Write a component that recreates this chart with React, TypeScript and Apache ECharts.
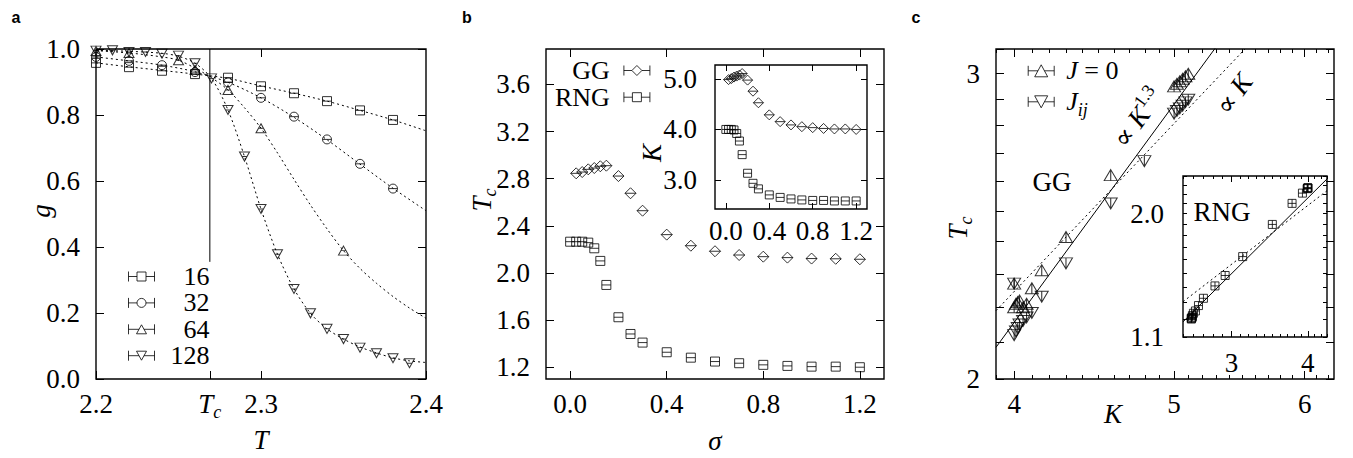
import React, { useEffect, useRef } from 'react';
import * as echarts from 'echarts';

const SERIF = '"Liberation Serif", "DejaVu Serif", serif';
const SANS = '"Liberation Sans", "DejaVu Sans", sans-serif';
const FS = 27;
const LFS = 26;

// ---------------- panel a : g(T) ----------------
const TC = 2.269;
const aXTicks = [2.2, TC, 2.3, 2.4];
const aXTopTicks = [2.3];
const aYTicks = [0, 0.2, 0.4, 0.6, 0.8, 1.0];
const aLegend = ['16', '32', '64', '128'];

const T16 = [2.2, 2.22, 2.24, 2.26, 2.28, 2.3, 2.32, 2.34, 2.36, 2.38];
const g16 = [0.958, 0.945, 0.934, 0.924, 0.913, 0.887, 0.866, 0.842, 0.814, 0.785];
const T32 = [2.2, 2.22, 2.24, 2.26, 2.28, 2.3, 2.32, 2.34, 2.36, 2.38];
const g32 = [0.976, 0.964, 0.951, 0.93, 0.899, 0.852, 0.795, 0.726, 0.652, 0.577];
const T64 = [2.2, 2.22, 2.25, 2.26, 2.28, 2.3, 2.35];
const g64 = [0.994, 0.988, 0.966, 0.937, 0.876, 0.76, 0.389];
const T128 = [2.2, 2.21, 2.22, 2.23, 2.24, 2.25, 2.26, 2.27, 2.28, 2.29, 2.3, 2.31, 2.32, 2.33, 2.34, 2.35, 2.36, 2.37, 2.38, 2.39];
const g128 = [0.995, 0.996, 0.991, 0.991, 0.986, 0.98, 0.957, 0.911, 0.815, 0.674, 0.515, 0.378, 0.273, 0.199, 0.152, 0.121, 0.095, 0.078, 0.063, 0.048];

// dotted fit curves
const fitT16 = [2.2, 2.22, 2.24, 2.26, 2.28, 2.3, 2.32, 2.34, 2.36, 2.38, 2.4];
const fitG16 = [0.958, 0.946, 0.935, 0.924, 0.911, 0.888, 0.866, 0.842, 0.814, 0.785, 0.752];
const fitT32 = [2.2, 2.22, 2.24, 2.26, 2.28, 2.3, 2.32, 2.34, 2.36, 2.38, 2.4];
const fitG32 = [0.976, 0.964, 0.951, 0.931, 0.899, 0.852, 0.793, 0.725, 0.651, 0.578, 0.51];
const fitT64 = [2.2, 2.22, 2.24, 2.25, 2.26, 2.27, 2.28, 2.29, 2.3, 2.31, 2.32, 2.33, 2.34, 2.35, 2.36, 2.37, 2.38, 2.39, 2.4];
const fitG64 = [0.995, 0.988, 0.976, 0.966, 0.942, 0.913, 0.876, 0.822, 0.76, 0.685, 0.605, 0.527, 0.455, 0.389, 0.335, 0.29, 0.25, 0.215, 0.184];
const fitT128 = [2.2, 2.22, 2.24, 2.25, 2.26, 2.27, 2.28, 2.29, 2.3, 2.31, 2.32, 2.33, 2.34, 2.35, 2.36, 2.37, 2.38, 2.39, 2.4];
const fitG128 = [0.996, 0.993, 0.987, 0.978, 0.957, 0.911, 0.815, 0.674, 0.515, 0.378, 0.273, 0.199, 0.152, 0.121, 0.097, 0.079, 0.064, 0.055, 0.05];

const tcLineT = [TC, TC];
const tcLineG = [1.0, 0.355];

// ---------------- panel b : Tc(sigma), inset K(sigma) ----------------
const bXTicks = [0, 0.4, 0.8, 1.2];
const bYTicks = [1.2, 1.6, 2.0, 2.4, 2.8, 3.2, 3.6];
const biYTicks = [3, 4, 5];
const bLegend = ['GG', 'RNG'];

const sigmaGG = [0.025, 0.05, 0.075, 0.1, 0.125, 0.15, 0.2, 0.25, 0.3, 0.4, 0.5, 0.6, 0.7, 0.8, 0.9, 1.0, 1.1, 1.2];
const tcGG = [2.845, 2.856, 2.879, 2.89, 2.905, 2.91, 2.822, 2.676, 2.528, 2.325, 2.231, 2.184, 2.152, 2.138, 2.13, 2.122, 2.12, 2.116];
const kGG = [4.99, 5.01, 5.04, 5.06, 5.08, 5.11, 4.98, 4.76, 4.53, 4.29, 4.155, 4.09, 4.055, 4.036, 4.02, 4.01, 4.01, 4.0];
const sigmaRNG = [0, 0.025, 0.05, 0.075, 0.1, 0.125, 0.15, 0.2, 0.25, 0.3, 0.4, 0.5, 0.6, 0.7, 0.8, 0.9, 1.0, 1.1, 1.2];
const tcRNG = [2.265, 2.265, 2.265, 2.257, 2.209, 2.102, 1.898, 1.624, 1.482, 1.409, 1.327, 1.281, 1.248, 1.234, 1.22, 1.211, 1.205, 1.205, 1.2];
const kRNG = [4.0, 4.0, 4.0, 3.99, 3.92, 3.77, 3.5, 3.13, 2.93, 2.82, 2.7, 2.65, 2.62, 2.6, 2.59, 2.59, 2.58, 2.58, 2.58];

// ---------------- panel c : Tc(K), log-log ----------------
const cXMajor = [4, 5, 6];
const cXMinor = [3.9, 4.1, 4.2, 4.3, 4.4, 4.5, 4.6, 4.7, 4.8, 4.9, 5.1, 5.2, 5.3, 5.4, 5.5, 5.6, 5.7, 5.8, 5.9, 6.1, 6.2];
const cYTicks = [2.0, 2.1, 2.2, 2.3, 2.4, 2.5, 2.6, 2.7, 2.8, 2.9, 3.0, 3.1];
const cYLabels = [2, 3];
const ciXMajor = [3, 4];
const ciXMinor = [2.5, 2.6, 2.7, 2.8, 2.9, 3.1, 3.2, 3.3, 3.4, 3.5, 3.6, 3.7, 3.8, 3.9, 4.1, 4.2, 4.3];
const ciYTicks = [1.1, 1.2, 1.3, 1.4, 1.5, 1.6, 1.7, 1.8, 1.9, 2.0, 2.1, 2.2, 2.3, 2.4];
const ciYLabels = [1.1, 2.0];
const cLegend = ['J = 0', 'J_ij'];

const kJ0 = [4.0, 4.0, 4.01, 4.02, 4.03, 4.05, 4.07, 4.1, 4.157, 4.3, 4.577, 5.0, 5.02, 5.04, 5.06, 5.08, 5.1];
const tcJ0 = [2.27, 2.2, 2.21, 2.215, 2.22, 2.2, 2.21, 2.256, 2.311, 2.415, 2.622, 2.95, 2.96, 2.97, 2.98, 2.99, 3.0];
const kJij = [4.0, 4.0, 4.01, 4.02, 4.03, 4.05, 4.07, 4.1, 4.157, 4.3, 4.577, 4.797, 5.0, 5.02, 5.04, 5.06, 5.08, 5.1];
const tcJij = [2.27, 2.12, 2.13, 2.14, 2.15, 2.16, 2.17, 2.183, 2.231, 2.332, 2.525, 2.671, 2.845, 2.855, 2.865, 2.875, 2.888, 2.898];

const fit13K = [3.9, 5.3];
const fit13Tc = [2.086, 3.107];
const fit1K = [3.9, 5.52];
const fit1Tc = [2.19, 3.1];
const fit13iK = [2.5, 4.3];
const fit13iTc = [1.184, 2.366];
const fit1iK = [2.5, 4.3];
const fit1iTc = [1.305, 2.235];

// ---------------- helpers ----------------
const zip = (xs: number[], ys: number[]) => xs.map((x, i) => [x, ys[i]]);

const SYM = {
  sqH: 'path://M0,0H10V10H0ZM0,5H10',
  ciH: 'path://M0,5A5,5,0,1,1,10,5A5,5,0,1,1,0,5ZM0,5H10',
  upH: 'path://M5,0L10,9L0,9ZM2.5,4.5H7.5',
  dnH: 'path://M0,0H10L5,9ZM2.5,4.5H7.5',
  diH: 'path://M5,0L10,5L5,10L0,5ZM0,5H10',
  upV: 'path://M5,0L10,9L0,9ZM5,0V9',
  dnV: 'path://M0,0H10L5,9ZM5,0V9',
  sqX: 'path://M0,0H10V10H0ZM0,5H10M5,0V10',
};
const LEG = {
  sq: 'path://M0,0V10M26,0V10M0,5H8.5M17.5,5H26M8.5,0.5H17.5V9.5H8.5Z',
  ci: 'path://M0,0V10M26,0V10M0,5H8.5M17.5,5H26M8.5,5A4.5,4.5,0,1,1,17.5,5A4.5,4.5,0,1,1,8.5,5Z',
  up: 'path://M0,0V10M26,0V10M0,5H10.5M15.5,5H26M13,0.5L18,9.5L8,9.5Z',
  dn: 'path://M0,0V10M26,0V10M0,5H10.5M15.5,5H26M8,0.5H18L13,9.5Z',
  di: 'path://M0,0V10M26,0V10M0,5H8M18,5H26M13,0L18,5L13,10L8,5Z',
  cUp: 'path://M0,1V11M26,1V11M0,6H9.75M16.25,6H26M13,0L19.5,12L6.5,12Z',
  cDn: 'path://M0,1V11M26,1V11M0,6H9.75M16.25,6H26M6.5,0H19.5L13,12Z',
};

// rich styles for echarts components (axis labels, legends)
const AXRICH = {
  n: { fontFamily: SERIF, fontSize: FS, color: '#000' },
  it: { fontFamily: SERIF, fontSize: FS, fontStyle: 'italic', color: '#000' },
  sub: { fontFamily: SERIF, fontSize: 18, fontStyle: 'italic', color: '#000', padding: [16, 0, 0, 0], lineHeight: 10 },
};
// rich styles for raw graphic texts (zrender style)
const GRICH = {
  it: { font: `italic ${FS}px ${SERIF}`, fill: '#000' },
  n: { font: `${FS}px ${SERIF}`, fill: '#000' },
  sub: { font: `italic 18px ${SERIF}`, fill: '#000', padding: [16, 0, 0, 0], lineHeight: 10 },
  sup: { font: `18px ${SERIF}`, fill: '#000', padding: [0, 0, 16, 0], lineHeight: 10 },
};

type AxOpt = {
  grid: number; pos: string; min: number; max: number; log?: boolean;
  ticks: number[]; len: number; labels?: number[]; fmt?: (v: number) => string; margin?: number;
};
function axis(o: AxOpt) {
  return {
    type: o.log ? 'log' : 'value',
    logBase: 10,
    gridIndex: o.grid,
    position: o.pos,
    min: o.min,
    max: o.max,
    silent: true,
    axisLine: { show: false, onZero: false },
    splitLine: { show: false },
    minorTick: { show: false },
    axisTick: { show: true, inside: true, length: o.len, customValues: o.ticks, lineStyle: { color: '#000', width: 1 } },
    axisLabel: o.labels
      ? { show: true, customValues: o.labels, formatter: o.fmt, margin: o.margin, color: '#000', fontFamily: SERIF, fontSize: FS, rich: AXRICH }
      : { show: false },
  };
}

const f1 = (v: number) => `{n|${v.toFixed(1)}}`;
const f0 = (v: number) => `{n|${Math.round(v)}}`;

const PT = { color: 'rgba(0,0,0,0)', borderColor: '#000', borderWidth: 1 };
function scat(name: string, data: number[][], xi: number, yi: number, symbol: string, size: number[]) {
  return {
    type: 'scatter', name, data, xAxisIndex: xi, yAxisIndex: yi, symbol, symbolSize: size,
    itemStyle: PT, emphasis: { disabled: true }, silent: true, z: 3,
  };
}
function ln(name: string, data: number[][], xi: number, yi: number, dotted: boolean, smooth: number | boolean) {
  return {
    type: 'line', name, data, xAxisIndex: xi, yAxisIndex: yi, showSymbol: false, symbol: 'none',
    smooth,
    lineStyle: { color: '#000', width: 1, type: dotted ? [2, 3] : 'solid' },
    emphasis: { disabled: true }, silent: true, z: 2,
  };
}

function gtext(x: number, y: number, text: string, extra: any = {}) {
  return {
    type: 'text', x, y, z: 100, silent: true, rotation: extra.rotation || 0,
    style: {
      text, fill: '#000',
      font: extra.font || `${FS}px ${SERIF}`,
      align: 'center', verticalAlign: 'middle', rich: GRICH,
    },
  };
}

function buildOption() {
  const gridBox = [
    { left: 96, top: 49, width: 330, height: 330 },
    { left: 546, top: 49, width: 338, height: 330 },
    { left: 715, top: 65, width: 152, height: 144 },
    { left: 996, top: 49, width: 338, height: 330 },
    { left: 1183, top: 176, width: 144, height: 161 },
  ];
  const grid = gridBox.map((g, i) => ({
    ...g, show: true, borderColor: '#000', borderWidth: 1.4,
    backgroundColor: i === 2 || i === 4 ? '#fff' : 'transparent', containLabel: false,
  }));

  const xAxis = [
    axis({ grid: 0, pos: 'bottom', min: 2.2, max: 2.4, ticks: aXTicks, len: 8, labels: aXTicks, margin: 11,
      fmt: (v) => (Math.abs(v - TC) < 1e-6 ? '{it|T}{sub|c}' : f1(v)) }),
    axis({ grid: 0, pos: 'top', min: 2.2, max: 2.4, ticks: aXTopTicks, len: 8 }),
    axis({ grid: 1, pos: 'bottom', min: -0.1, max: 1.3, ticks: bXTicks, len: 8, labels: bXTicks, fmt: f1, margin: 11 }),
    axis({ grid: 1, pos: 'top', min: -0.1, max: 1.3, ticks: bXTicks, len: 8 }),
    axis({ grid: 2, pos: 'bottom', min: -0.1, max: 1.3, ticks: bXTicks, len: 6, labels: bXTicks, fmt: f1, margin: 8 }),
    axis({ grid: 2, pos: 'top', min: -0.1, max: 1.3, ticks: bXTicks, len: 6 }),
    axis({ grid: 3, pos: 'bottom', min: 3.9, max: 6.25, log: true, ticks: cXMajor, len: 8, labels: cXMajor, fmt: f0, margin: 11 }),
    axis({ grid: 3, pos: 'bottom', min: 3.9, max: 6.25, log: true, ticks: cXMinor, len: 4 }),
    axis({ grid: 3, pos: 'top', min: 3.9, max: 6.25, log: true, ticks: cXMajor, len: 8 }),
    axis({ grid: 3, pos: 'top', min: 3.9, max: 6.25, log: true, ticks: cXMinor, len: 4 }),
    axis({ grid: 4, pos: 'bottom', min: 2.5, max: 4.3, log: true, ticks: ciXMajor, len: 6, labels: ciXMajor, fmt: f0, margin: 12 }),
    axis({ grid: 4, pos: 'bottom', min: 2.5, max: 4.3, log: true, ticks: ciXMinor, len: 3 }),
    axis({ grid: 4, pos: 'top', min: 2.5, max: 4.3, log: true, ticks: ciXMajor, len: 6 }),
    axis({ grid: 4, pos: 'top', min: 2.5, max: 4.3, log: true, ticks: ciXMinor, len: 3 }),
  ];
  const yAxis = [
    axis({ grid: 0, pos: 'left', min: 0, max: 1, ticks: aYTicks, len: 8, labels: aYTicks, fmt: f1, margin: 16 }),
    axis({ grid: 0, pos: 'right', min: 0, max: 1, ticks: aYTicks, len: 8 }),
    axis({ grid: 1, pos: 'left', min: 1.1, max: 3.9, ticks: bYTicks, len: 8, labels: bYTicks, fmt: f1, margin: 16 }),
    axis({ grid: 1, pos: 'right', min: 1.1, max: 3.9, ticks: bYTicks, len: 8 }),
    axis({ grid: 2, pos: 'left', min: 2.42, max: 5.28, ticks: biYTicks, len: 6, labels: biYTicks, fmt: f1, margin: 18 }),
    axis({ grid: 2, pos: 'right', min: 2.42, max: 5.28, ticks: biYTicks, len: 6 }),
    axis({ grid: 3, pos: 'left', min: 2, max: 3.1, log: true, ticks: cYTicks, len: 8, labels: cYLabels, fmt: f0, margin: 16 }),
    axis({ grid: 3, pos: 'right', min: 2, max: 3.1, log: true, ticks: cYTicks, len: 8 }),
    axis({ grid: 4, pos: 'left', min: 1.1, max: 2.4, log: true, ticks: ciYTicks, len: 4, labels: ciYLabels, fmt: f1, margin: 19 }),
    axis({ grid: 4, pos: 'right', min: 1.1, max: 2.4, log: true, ticks: ciYTicks, len: 4 }),
  ];

  const series = [
    // panel a
    ln('fit16', zip(fitT16, fitG16), 0, 0, true, 0.3),
    ln('fit32', zip(fitT32, fitG32), 0, 0, true, 0.3),
    ln('fit64', zip(fitT64, fitG64), 0, 0, true, 0.3),
    ln('fit128', zip(fitT128, fitG128), 0, 0, true, 0.3),
    ln('TcLine', zip(tcLineT, tcLineG), 0, 0, false, false),
    scat('16', zip(T16, g16), 0, 0, SYM.sqH, [9, 9]),
    scat('32', zip(T32, g32), 0, 0, SYM.ciH, [9, 9]),
    scat('64', zip(T64, g64), 0, 0, SYM.upH, [10, 9]),
    scat('128', zip(T128, g128), 0, 0, SYM.dnH, [10, 9]),
    // panel b
    scat('GG', zip(sigmaGG, tcGG), 2, 2, SYM.diH, [11, 11]),
    scat('RNG', zip(sigmaRNG, tcRNG), 2, 2, SYM.sqH, [9, 9]),
    scat('GG K', zip(sigmaGG, kGG), 4, 4, SYM.diH, [10, 10]),
    scat('RNG K', zip(sigmaRNG, kRNG), 4, 4, SYM.sqH, [8, 8]),
    // panel c
    ln('K13', zip(fit13K, fit13Tc), 6, 6, false, false),
    ln('K1', zip(fit1K, fit1Tc), 6, 6, true, false),
    scat('J = 0', zip(kJ0, tcJ0), 6, 6, SYM.upV, [13, 11]),
    scat('J_ij', zip(kJij, tcJij), 6, 6, SYM.dnV, [13, 11]),
    ln('K13 inset', zip(fit13iK, fit13iTc), 10, 8, false, false),
    ln('K1 inset', zip(fit1iK, fit1iTc), 10, 8, true, false),
    scat('RNG c', zip(kRNG, tcRNG), 10, 8, SYM.sqX, [8, 8]),
  ];

  const legTxt = (rich: any) => ({ color: '#000', fontFamily: SERIF, fontSize: LFS, rich });
  const legend = [
    {
      orient: 'vertical', left: 128, top: 263.5, padding: 0, itemWidth: 26, itemHeight: 10, itemGap: 0.4,
      selectedMode: false,
      data: aLegend.map((n, i) => ({ name: n, icon: [LEG.sq, LEG.ci, LEG.up, LEG.dn][i], itemStyle: PT })),
      formatter: (n: string) => `{r|${n}}`,
      textStyle: legTxt({ r: { width: 50, align: 'right', fontFamily: SERIF, fontSize: LFS, color: '#000' } }),
    },
    {
      orient: 'vertical', left: 555, top: 57.5, padding: 0, itemWidth: 26, itemHeight: 10, itemGap: 0.7,
      align: 'right', selectedMode: false,
      data: bLegend.map((n, i) => ({ name: n, icon: [LEG.di, LEG.sq][i], itemStyle: PT })),
      formatter: (n: string) => `{r|${n}}`,
      textStyle: legTxt({ r: { width: 56, align: 'right', padding: [0, 9, 0, 0], fontFamily: SERIF, fontSize: LFS, color: '#000' } }),
    },
    {
      orient: 'vertical', left: 1027.7, top: 57.8, padding: 0, itemWidth: 26, itemHeight: 12, itemGap: 1,
      selectedMode: false,
      data: cLegend.map((n, i) => ({ name: n, icon: [LEG.cUp, LEG.cDn][i], itemStyle: PT })),
      formatter: (n: string) => (n === 'J = 0' ? '{it|J}{n| = 0}' : '{it|J}{sub|ij}'),
      textStyle: legTxt({
        it: { fontFamily: SERIF, fontSize: LFS, fontStyle: 'italic', color: '#000', padding: [0, 0, 0, 7] },
        n: { fontFamily: SERIF, fontSize: LFS, color: '#000' },
        sub: { fontFamily: SERIF, fontSize: 18, fontStyle: 'italic', color: '#000', padding: [16, 0, 0, 0], lineHeight: 10 },
      }),
    },
  ];

  const bold = `bold 16px ${SANS}`;
  const deg54 = (54 * Math.PI) / 180;
  const graphic = [
    gtext(16, 17, 'a', { font: bold }),
    gtext(467, 17, 'b', { font: bold }),
    gtext(916, 17, 'c', { font: bold }),
    gtext(41, 211, '{it|g}', { rotation: Math.PI / 2 }),
    gtext(261, 440, '{it|T}'),
    gtext(482, 200, '{it|T}{sub|c}', { rotation: Math.PI / 2 }),
    gtext(715, 441, '{it|σ}'),
    gtext(652, 153, '{it|K}', { rotation: Math.PI / 2 }),
    gtext(958, 228, '{it|T}{sub|c}', { rotation: Math.PI / 2 }),
    gtext(1113, 414, '{it|K}'),
    gtext(1138, 118, '{n|∝ }{it|K}{sup|1.3}', { rotation: deg54 }),
    gtext(1234, 94, '{n|∝ }{it|K}', { rotation: deg54 }),
    gtext(1052, 182, 'GG'),
    gtext(1222, 212, 'RNG'),
  ];

  return {
    animation: false,
    backgroundColor: '#fff',
    textStyle: { fontFamily: SERIF },
    grid, xAxis, yAxis, series, legend, graphic,
  };
}

export default function App() {
  const ref = useRef<HTMLDivElement>(null);
  useEffect(() => {
    const chart = echarts.init(ref.current as HTMLDivElement, null, { renderer: 'svg' });
    chart.setOption(buildOption() as any);
    return () => chart.dispose();
  }, []);
  return (
    <div
      ref={ref}
      style={{ position: 'absolute', left: 0, top: 0, width: 1353, height: 458, background: '#fff' }}
    />
  );
}
